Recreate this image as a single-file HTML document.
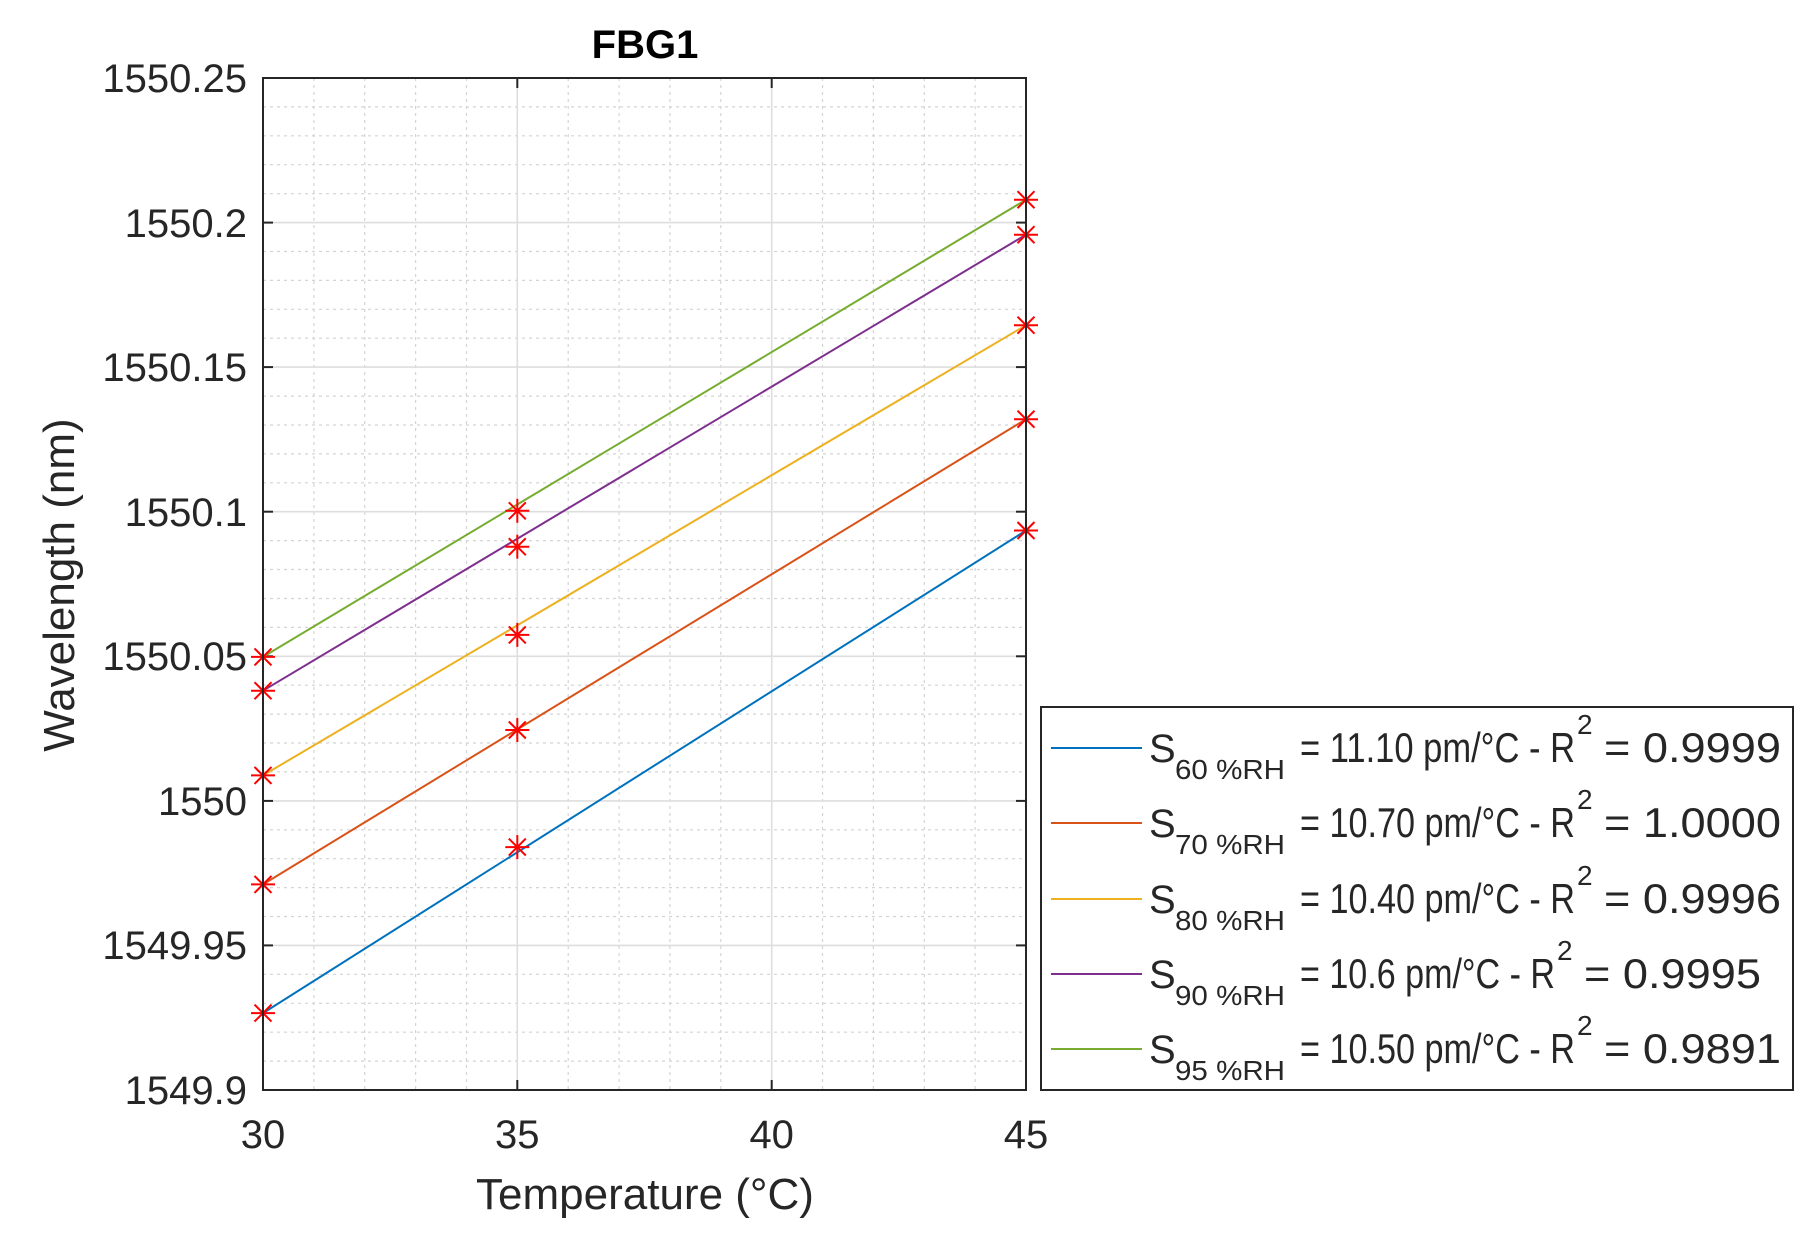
<!DOCTYPE html>
<html><head><meta charset="utf-8"><style>
html,body{margin:0;padding:0;background:#fff}
svg{display:block}
text{font-family:"Liberation Sans",Arial,sans-serif;fill:#262626}
</style></head><body>
<svg width="1816" height="1243" viewBox="0 0 1816 1243" xmlns="http://www.w3.org/2000/svg">
<defs>
<g id="m" stroke="#ff0000" stroke-width="2" fill="none">
<line x1="-12" y1="0" x2="12" y2="0"/><line x1="0" y1="-12" x2="0" y2="12"/>
<line x1="-8.5" y1="-8.5" x2="8.5" y2="8.5"/><line x1="-8.5" y1="8.5" x2="8.5" y2="-8.5"/>
</g>
</defs>
<rect x="263" y="78" width="763" height="1012" fill="#fff"/>
<g stroke="#d4d4d4" stroke-width="1.2" stroke-dasharray="3,4">
<line x1="313.9" y1="78" x2="313.9" y2="1090"/><line x1="364.7" y1="78" x2="364.7" y2="1090"/><line x1="415.6" y1="78" x2="415.6" y2="1090"/><line x1="466.5" y1="78" x2="466.5" y2="1090"/>
<line x1="568.2" y1="78" x2="568.2" y2="1090"/><line x1="619.1" y1="78" x2="619.1" y2="1090"/><line x1="669.9" y1="78" x2="669.9" y2="1090"/><line x1="720.8" y1="78" x2="720.8" y2="1090"/>
<line x1="822.5" y1="78" x2="822.5" y2="1090"/><line x1="873.4" y1="78" x2="873.4" y2="1090"/><line x1="924.3" y1="78" x2="924.3" y2="1090"/><line x1="975.1" y1="78" x2="975.1" y2="1090"/>
<line x1="263" y1="106.9" x2="1026" y2="106.9"/><line x1="263" y1="135.8" x2="1026" y2="135.8"/><line x1="263" y1="164.7" x2="1026" y2="164.7"/><line x1="263" y1="193.7" x2="1026" y2="193.7"/>
<line x1="263" y1="251.5" x2="1026" y2="251.5"/><line x1="263" y1="280.4" x2="1026" y2="280.4"/><line x1="263" y1="309.3" x2="1026" y2="309.3"/><line x1="263" y1="338.2" x2="1026" y2="338.2"/>
<line x1="263" y1="396.1" x2="1026" y2="396.1"/><line x1="263" y1="425" x2="1026" y2="425"/><line x1="263" y1="453.9" x2="1026" y2="453.9"/><line x1="263" y1="482.8" x2="1026" y2="482.8"/>
<line x1="263" y1="540.6" x2="1026" y2="540.6"/><line x1="263" y1="569.5" x2="1026" y2="569.5"/><line x1="263" y1="598.5" x2="1026" y2="598.5"/><line x1="263" y1="627.4" x2="1026" y2="627.4"/>
<line x1="263" y1="685.2" x2="1026" y2="685.2"/><line x1="263" y1="714.1" x2="1026" y2="714.1"/><line x1="263" y1="743" x2="1026" y2="743"/><line x1="263" y1="771.9" x2="1026" y2="771.9"/>
<line x1="263" y1="829.8" x2="1026" y2="829.8"/><line x1="263" y1="858.7" x2="1026" y2="858.7"/><line x1="263" y1="887.6" x2="1026" y2="887.6"/><line x1="263" y1="916.5" x2="1026" y2="916.5"/>
<line x1="263" y1="974.3" x2="1026" y2="974.3"/><line x1="263" y1="1003.3" x2="1026" y2="1003.3"/><line x1="263" y1="1032.2" x2="1026" y2="1032.2"/><line x1="263" y1="1061.1" x2="1026" y2="1061.1"/>
</g>
<g stroke="#dedede" stroke-width="1.6">
<line x1="517.3" y1="78" x2="517.3" y2="1090"/><line x1="771.7" y1="78" x2="771.7" y2="1090"/>
<line x1="263" y1="222.6" x2="1026" y2="222.6"/><line x1="263" y1="367.1" x2="1026" y2="367.1"/><line x1="263" y1="511.7" x2="1026" y2="511.7"/>
<line x1="263" y1="656.3" x2="1026" y2="656.3"/><line x1="263" y1="800.9" x2="1026" y2="800.9"/><line x1="263" y1="945.4" x2="1026" y2="945.4"/>
</g>
<g stroke="#262626" stroke-width="2">
<line x1="517.3" y1="1090" x2="517.3" y2="1080"/><line x1="771.7" y1="1090" x2="771.7" y2="1080"/>
<line x1="517.3" y1="78" x2="517.3" y2="88"/><line x1="771.7" y1="78" x2="771.7" y2="88"/>
<line x1="263" y1="222.6" x2="273" y2="222.6"/><line x1="263" y1="367.1" x2="273" y2="367.1"/><line x1="263" y1="511.7" x2="273" y2="511.7"/><line x1="263" y1="656.3" x2="273" y2="656.3"/><line x1="263" y1="800.9" x2="273" y2="800.9"/><line x1="263" y1="945.4" x2="273" y2="945.4"/>
<line x1="1026" y1="222.6" x2="1016" y2="222.6"/><line x1="1026" y1="367.1" x2="1016" y2="367.1"/><line x1="1026" y1="511.7" x2="1016" y2="511.7"/><line x1="1026" y1="656.3" x2="1016" y2="656.3"/><line x1="1026" y1="800.9" x2="1016" y2="800.9"/><line x1="1026" y1="945.4" x2="1016" y2="945.4"/>
</g>
<g stroke-width="2" fill="none">
<line x1="263" y1="1013.1" x2="1026" y2="530.5" stroke="#0072BD"/>
<line x1="263" y1="884.4" x2="1026" y2="419.2" stroke="#D95319"/>
<line x1="263" y1="775.4" x2="1026" y2="325.2" stroke="#EDB120"/>
<line x1="263" y1="690.7" x2="1026" y2="234.7" stroke="#7E2F8E"/>
<line x1="263" y1="656.9" x2="1026" y2="199.7" stroke="#77AC30"/>
</g>
<g>
<use href="#m" x="263" y="1013.1"/><use href="#m" x="517.3" y="847.1"/><use href="#m" x="1026" y="530.5"/>
<use href="#m" x="263" y="884.4"/><use href="#m" x="517.3" y="730"/><use href="#m" x="1026" y="419.2"/>
<use href="#m" x="263" y="775.4"/><use href="#m" x="517.3" y="634.9"/><use href="#m" x="1026" y="325.2"/>
<use href="#m" x="263" y="690.7"/><use href="#m" x="517.3" y="546.7"/><use href="#m" x="1026" y="234.7"/>
<use href="#m" x="263" y="656.9"/><use href="#m" x="517.3" y="510.8"/><use href="#m" x="1026" y="199.7"/>
</g>
<rect x="263" y="78" width="763" height="1012" fill="none" stroke="#262626" stroke-width="2"/>
<g font-size="40" text-anchor="end">
<text x="247" y="92">1550.25</text>
<text x="247" y="237">1550.2</text>
<text x="247" y="381">1550.15</text>
<text x="247" y="526">1550.1</text>
<text x="247" y="670">1550.05</text>
<text x="247" y="815">1550</text>
<text x="247" y="959">1549.95</text>
<text x="247" y="1104">1549.9</text>
</g>
<g font-size="40" text-anchor="middle">
<text x="263" y="1148">30</text>
<text x="517.3" y="1148">35</text>
<text x="771.7" y="1148">40</text>
<text x="1026" y="1148">45</text>
</g>
<text x="645" y="1209" font-size="44" text-anchor="middle">Temperature (°C)</text>
<text transform="translate(74,585) rotate(-90)" font-size="44" text-anchor="middle">Wavelength (nm)</text>
<text x="645" y="58" font-size="40" font-weight="bold" text-anchor="middle" style="fill:#000">FBG1</text>
<rect x="1041" y="707" width="752" height="383" fill="#fff" stroke="#262626" stroke-width="2"/>
<g stroke-width="2">
<line x1="1051" y1="748" x2="1142" y2="748" stroke="#0072BD"/>
<line x1="1051" y1="823" x2="1142" y2="823" stroke="#D95319"/>
<line x1="1051" y1="899" x2="1142" y2="899" stroke="#EDB120"/>
<line x1="1051" y1="974" x2="1142" y2="974" stroke="#7E2F8E"/>
<line x1="1051" y1="1049" x2="1142" y2="1049" stroke="#77AC30"/>
</g>
<g style="fill:#000">
<text x="1149" y="762" font-size="40">S</text><text x="1175" y="779" font-size="28" textLength="110" lengthAdjust="spacingAndGlyphs">60 %RH</text>
<text x="1300" y="762" font-size="42" textLength="275" lengthAdjust="spacingAndGlyphs">= 11.10 pm/°C - R</text><text x="1577" y="734" font-size="28">2</text>
<text x="1604" y="762" font-size="42" textLength="177" lengthAdjust="spacingAndGlyphs">= 0.9999</text>

<text x="1149" y="837" font-size="40">S</text><text x="1175" y="854" font-size="28" textLength="110" lengthAdjust="spacingAndGlyphs">70 %RH</text>
<text x="1300" y="837" font-size="42" textLength="275" lengthAdjust="spacingAndGlyphs">= 10.70 pm/°C - R</text><text x="1577" y="809" font-size="28">2</text>
<text x="1604" y="837" font-size="42" textLength="177" lengthAdjust="spacingAndGlyphs">= 1.0000</text>

<text x="1149" y="913" font-size="40">S</text><text x="1175" y="930" font-size="28" textLength="110" lengthAdjust="spacingAndGlyphs">80 %RH</text>
<text x="1300" y="913" font-size="42" textLength="275" lengthAdjust="spacingAndGlyphs">= 10.40 pm/°C - R</text><text x="1577" y="885" font-size="28">2</text>
<text x="1604" y="913" font-size="42" textLength="177" lengthAdjust="spacingAndGlyphs">= 0.9996</text>

<text x="1149" y="988" font-size="40">S</text><text x="1175" y="1005" font-size="28" textLength="110" lengthAdjust="spacingAndGlyphs">90 %RH</text>
<text x="1300" y="988" font-size="42" textLength="255" lengthAdjust="spacingAndGlyphs">= 10.6 pm/°C - R</text><text x="1557" y="960" font-size="28">2</text>
<text x="1584" y="988" font-size="42" textLength="177" lengthAdjust="spacingAndGlyphs">= 0.9995</text>

<text x="1149" y="1063" font-size="40">S</text><text x="1175" y="1080" font-size="28" textLength="110" lengthAdjust="spacingAndGlyphs">95 %RH</text>
<text x="1300" y="1063" font-size="42" textLength="275" lengthAdjust="spacingAndGlyphs">= 10.50 pm/°C - R</text><text x="1577" y="1035" font-size="28">2</text>
<text x="1604" y="1063" font-size="42" textLength="177" lengthAdjust="spacingAndGlyphs">= 0.9891</text>
</g>
</svg>
</body></html>
